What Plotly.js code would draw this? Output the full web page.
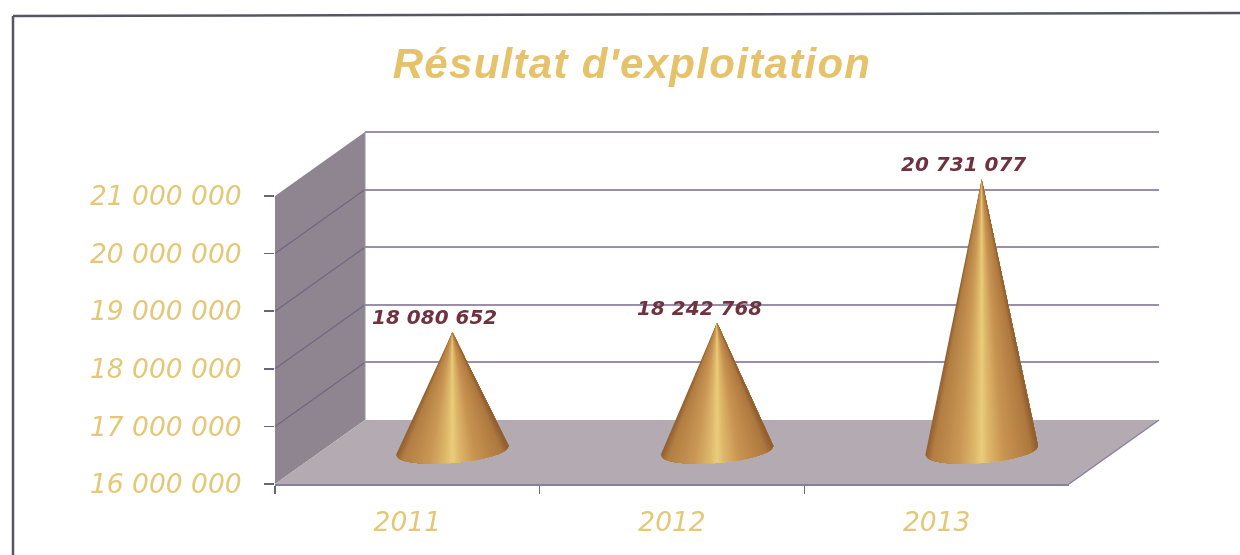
<!DOCTYPE html>
<html>
<head>
<meta charset="utf-8">
<script src="https://cdn.plot.ly/plotly-3.0.1.min.js"></script>
<style>
html,body{margin:0;padding:0;background:#fff;}
#chart{width:1240px;height:555px;filter:blur(0.5px);}
.gtitle{letter-spacing:1.3px;}
</style>
</head>
<body>
<div id="chart"></div>
<script>
// ---- data ----
var years = ['2011', '2012', '2013'];
var values = [18080652, 18242768, 20731077];
var valueLabels = ['18 080 652', '18 242 768', '20 731 077'];
var yTickVals = [16000000, 17000000, 18000000, 19000000, 20000000, 21000000];
var yTickLabels = ['16 000 000', '17 000 000', '18 000 000', '19 000 000', '20 000 000', '21 000 000'];
var titleText = "Résultat d'exploitation";

// ---- frame geometry (page pixels) ----
var W = 1240, H = 555;
var front = {l: 275, r: 1069, t: 196, b: 484};
var depth = {dx: 90, dy: 64};
var pxPerUnit = (front.b - front.t) / 5000000;
function xDom(o) { return [(front.l + o) / W, (front.r + o) / W]; }
// y domain for a layer shifted up by o pixels, with its range widened by lo / hi units
function yDom(o, lo, hi) { return [1 - (front.b - o + lo * pxPerUnit) / H, 1 - (front.t - o - hi * pxPerUnit) / H]; }
function yPx(v, o) { return front.b - o - (v - 16000000) * pxPerUnit; }
function poly(pts) { return 'M' + pts.map(function (p) { return (p[0] / W) + ',' + (1 - p[1] / H); }).join('L') + 'Z'; }
function seg(a, b, color, width) {
  return {type: 'line', xref: 'paper', yref: 'paper', x0: a[0] / W, y0: 1 - a[1] / H, x1: b[0] / W, y1: 1 - b[1] / H,
    line: {color: color, width: width}, layer: 'below'};
}

var wallColor = '#8e8590', floorColor = '#b4aab2', gridColor = '#9a8fa6', sideGrid = '#6f6880';
var shapes = [
  {type: 'path', xref: 'paper', yref: 'paper', layer: 'below', line: {width: 0}, fillcolor: wallColor,
    path: poly([[front.l, front.t], [front.l + depth.dx, front.t - depth.dy], [front.l + depth.dx, front.b - depth.dy], [front.l, front.b]])},
  {type: 'path', xref: 'paper', yref: 'paper', layer: 'below', line: {width: 0}, fillcolor: floorColor,
    path: poly([[front.l, front.b], [front.l + depth.dx, front.b - depth.dy], [front.r + depth.dx, front.b - depth.dy], [front.r, front.b]])},
  seg([front.r, front.b], [front.r + depth.dx, front.b - depth.dy], '#8a80a0', 1.5),
  seg([13, 16], [1240, 13], '#565666', 2.5),
  seg([13, 16], [13, 555], '#565666', 2.5)
];
yTickVals.slice(1, 5).forEach(function (v) {
  shapes.push(seg([front.l, yPx(v, 0)], [front.l + depth.dx, yPx(v, depth.dy)], sideGrid, 1.2));
});

// ---- cones: overlapping shaded fans painted left to right, apex at the value, through the axes ----
var shadeStops = [[-1, [146, 96, 50]], [-0.88, [178, 126, 66]], [-0.4, [202, 152, 86]], [-0.12, [222, 184, 108]], [0, [234, 206, 124]],
  [0.12, [222, 184, 106]], [0.4, [200, 148, 82]], [0.88, [174, 120, 62]], [1, [140, 92, 48]]];
function shade(t) {
  for (var i = 0; i < shadeStops.length - 1; i++) {
    var a = shadeStops[i], b = shadeStops[i + 1];
    if (t <= b[0]) {
      var f = (t - a[0]) / (b[0] - a[0]);
      return 'rgb(' + [0, 1, 2].map(function (k) { return Math.round(a[1][k] + f * (b[1][k] - a[1][k])); }).join(',') + ')';
    }
  }
  return 'rgb(140,92,48)';
}
var halfW = 0.213, baseMid = 16026000, baseTilt = 78000, baseDrop = 217000, slices = 60;
function basePoint(i, t) {
  return [i + t * halfW, baseMid + t * baseTilt - baseDrop * Math.sqrt(Math.max(0, 1 - t * t))];
}
var traces = [];
// back wall grid
traces.push({type: 'scatter', mode: 'none', x: [0, 1, 2], y: [16000000, 16000000, 16000000], xaxis: 'x', yaxis: 'y', hoverinfo: 'skip', showlegend: false});
// front axes
traces.push({type: 'scatter', mode: 'none', x: years, y: [16000000, 16000000, 16000000], xaxis: 'x2', yaxis: 'y2', hoverinfo: 'skip', showlegend: false});
values.forEach(function (v, i) {
  for (var s = 0; s < slices; s++) {
    var xs = [i], ys = [v];
    for (var k = s; k <= slices; k++) {
      var p = basePoint(i, -1 + 2 * k / slices);
      xs.push(p[0]); ys.push(p[1]);
    }
    xs.push(i); ys.push(v);
    traces.push({type: 'scatter', mode: 'none', x: xs, y: ys, xaxis: 'x3', yaxis: 'y3', fill: 'toself',
      fillcolor: shade(-1 + 2 * (s + 0.5) / slices), hoverinfo: 'skip', showlegend: false, cliponaxis: false});
  }
});

var annotations = values.map(function (v, i) {
  return {xref: 'x3', yref: 'y3', x: i, y: v, text: valueLabels[i], showarrow: false, xshift: -18, yshift: 15,
    xanchor: 'center', yanchor: 'middle',
    font: {family: 'DejaVu Sans', size: 20, color: '#70323f', weight: 'bold', style: 'italic'}};
});
shapes.push(seg([front.l + depth.dx, front.t - depth.dy], [front.l + depth.dx, front.b - depth.dy], gridColor, 1));

var labelFont = {family: 'DejaVu Sans', size: 26.5, color: '#e4c777', style: 'italic'};
var topPad = 100000, conePad = 500000;
var layout = {
  width: W, height: H,
  margin: {l: 0, r: 0, t: 0, b: 0},
  paper_bgcolor: '#ffffff', plot_bgcolor: 'rgba(0,0,0,0)',
  showlegend: false,
  title: {text: titleText, x: 632 / W, y: 1 - 63 / H, xref: 'paper', yref: 'container', xanchor: 'center', yanchor: 'middle',
    font: {family: 'Liberation Sans', size: 42, color: '#e6c36a', weight: 'bold', style: 'italic'}},
  shapes: shapes,
  annotations: annotations,
  // back wall
  xaxis: {domain: xDom(depth.dx), range: [-0.5, 2.5], visible: false, fixedrange: true, anchor: 'y'},
  yaxis: {domain: yDom(depth.dy, 0, topPad), range: [16000000, 21000000 + topPad], tickvals: yTickVals, showticklabels: false, ticks: '',
    showgrid: true, gridcolor: gridColor, gridwidth: 2, showline: false, zeroline: false, anchor: 'x', fixedrange: true},
  // front axes
  xaxis2: {domain: xDom(0), type: 'category', categoryorder: 'array', categoryarray: years, range: [-0.5, 2.5],
    tickson: 'boundaries', ticks: 'outside', ticklen: 8, tickwidth: 1.5, tickcolor: '#6a6480',
    showline: true, linecolor: '#85809f', linewidth: 2, showgrid: false, zeroline: false,
    tickfont: labelFont, ticklabelstandoff: 13, anchor: 'y2', fixedrange: true},
  yaxis2: {domain: yDom(0, 0, 0), range: [16000000, 21000000], tickvals: yTickVals, ticktext: yTickLabels,
    ticks: 'outside', ticklen: 10, tickwidth: 1.5, tickcolor: '#6a6480', showline: false, showgrid: false, zeroline: false,
    tickfont: labelFont, ticklabelstandoff: 17, anchor: 'x2', fixedrange: true},
  // cone layer, half-way into the depth
  xaxis3: {domain: xDom(depth.dx / 2), range: [-0.5, 2.5], visible: false, fixedrange: true, anchor: 'y3'},
  yaxis3: {domain: yDom(depth.dy / 2, conePad, 0), range: [16000000 - conePad, 21000000], visible: false, fixedrange: true, anchor: 'x3'}
};
Plotly.newPlot('chart', traces, layout, {displayModeBar: false, staticPlot: true});
</script>
</body>
</html>
